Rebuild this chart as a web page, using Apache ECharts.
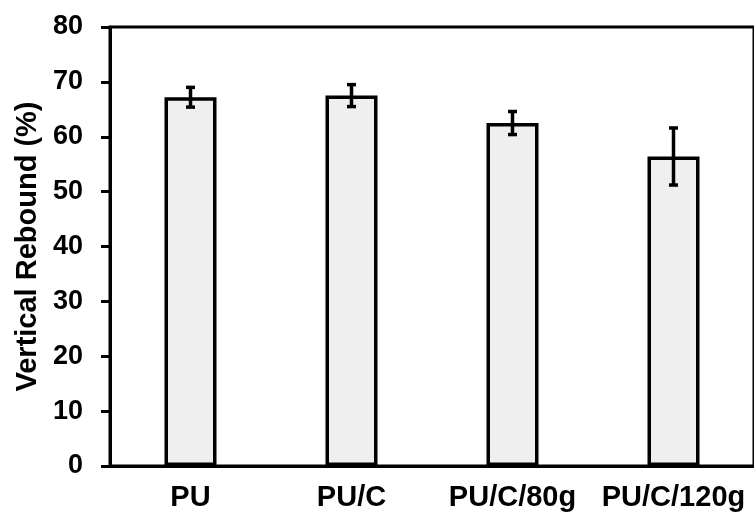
<!DOCTYPE html>
<html>
<head>
<meta charset="utf-8">
<script src="https://cdn.jsdelivr.net/npm/echarts@6/dist/echarts.min.js"></script>
<style>
html,body{margin:0;padding:0;background:#fff;}
#chart{width:754px;height:518px;}
</style>
</head>
<body>
<div id="chart"></div>
<script>
var categories = ['PU', 'PU/C', 'PU/C/80g', 'PU/C/120g'];
var values = [67.2, 67.5, 62.5, 56.4];
var errors = [1.8, 2.0, 2.1, 5.2];
var yTicks = [0, 10, 20, 30, 40, 50, 60, 70, 80];

var chart = echarts.init(document.getElementById('chart'), null, {renderer: 'canvas'});
var font = '"Liberation Sans", Arial, sans-serif';

var errData = values.map(function (v, i) { return [i, v - errors[i], v + errors[i]]; });

chart.setOption({
  backgroundColor: '#ffffff',
  animation: false,
  grid: {
    left: 110, top: 27, width: 652, bottom: 52,
    show: true, borderColor: '#000', borderWidth: 3, backgroundColor: 'transparent'
  },
  xAxis: {
    type: 'category',
    data: categories,
    axisLine: {lineStyle: {color: '#000', width: 3}},
    axisTick: {show: false},
    axisLabel: {interval: 0, color: '#000', fontFamily: font, fontWeight: 'bold', fontSize: 29, margin: 17}
  },
  yAxis: {
    type: 'value',
    min: yTicks[0], max: yTicks[yTicks.length - 1], interval: 10,
    name: 'Vertical Rebound (%)',
    nameLocation: 'middle',
    nameGap: 66,
    nameTextStyle: {color: '#000', fontFamily: font, fontWeight: 'bold', fontSize: 29},
    axisLine: {show: true, lineStyle: {color: '#000', width: 3}},
    axisTick: {show: true, inside: false, length: 9, lineStyle: {color: '#000', width: 3}},
    splitLine: {show: false},
    axisLabel: {color: '#000', fontFamily: font, fontWeight: 'bold', fontSize: 27, margin: 27}
  },
  series: [
    {
      type: 'bar',
      data: values,
      barWidth: 52,
      itemStyle: {color: '#efefef', borderColor: '#000', borderWidth: 3.5},
      z: 2
    },
    {
      type: 'custom',
      data: errData,
      z: 5,
      renderItem: function (params, api) {
        var x = api.value(0);
        var lo = api.coord([x, api.value(1)]);
        var hi = api.coord([x, api.value(2)]);
        var hw = 4.5;
        var st = {stroke: '#000', lineWidth: 3.5};
        return {
          type: 'group',
          children: [
            {type: 'line', shape: {x1: lo[0], y1: lo[1], x2: hi[0], y2: hi[1]}, style: st},
            {type: 'line', shape: {x1: lo[0] - hw, y1: lo[1], x2: lo[0] + hw, y2: lo[1]}, style: st},
            {type: 'line', shape: {x1: hi[0] - hw, y1: hi[1], x2: hi[0] + hw, y2: hi[1]}, style: st}
          ]
        };
      }
    }
  ]
});
</script>
</body>
</html>
